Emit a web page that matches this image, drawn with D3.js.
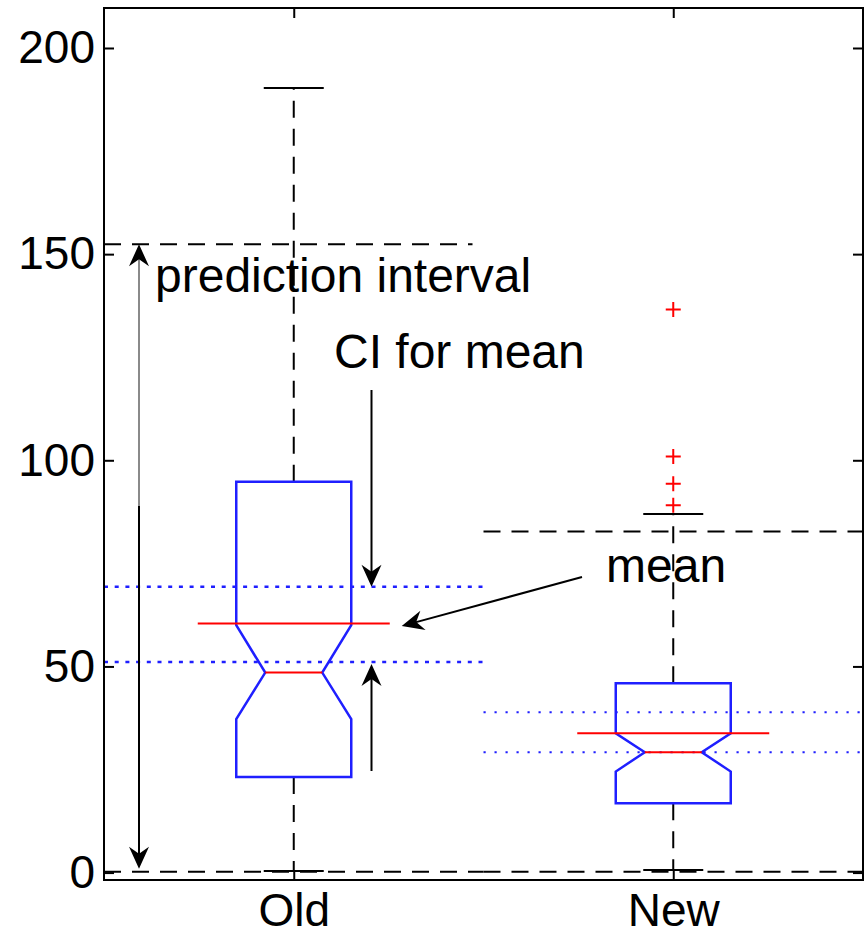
<!DOCTYPE html>
<html>
<head>
<meta charset="utf-8">
<script src="https://cdn.jsdelivr.net/npm/d3@7.9.0/dist/d3.min.js"></script>
<style>
  body { margin: 0; background: #fff; }
  svg text { font-family: "Liberation Sans", Arial, sans-serif; fill: #000; }
</style>
</head>
<body>
<svg width="865" height="941"></svg>
<script>
// data
const categories = ['Old', 'New'];
const yTicks = [0, 50, 100, 150, 200];
const q1 = [23.2, 16.8];
const q3 = [94.8, 45.9];
const medians = [48.5, 29.2];
const notchLo = [37.2, 24.5];
const notchHi = [60.0, 33.8];
const whiskerLo = [0.4, 0.6];
const whiskerHi = [190.3, 87.0];
const means = [60.4, 33.8];
const ciLo = [51.1, 29.2];
const ciHi = [69.3, 38.9];
const piLo = [0.2, 0.2];
const piHi = [152.4, 82.7];
const outliersNew = [136.6, 100.9, 94.3, 89.1];

const svg = d3.select('svg');
const plotLeft = 104, plotRight = 863, plotTop = 8, plotBottom = 880;

let x = d3.scaleBand().domain(categories).range([plotLeft, plotRight]);
let y = d3.scaleLinear().domain([-1.8, 209.7]).range([plotBottom, plotTop]);
const cx = (c) => x(c) + x.bandwidth() / 2;

const boxHalf = 57.5, notchHalf = 28.5, capHalf = 30, meanHalf = 96;
const dash = '17,11';

// prediction interval dashed lines
categories.forEach((c, i) => {
    const x0 = x(c), x1 = i === 0 ? x(c) + x.bandwidth() - 11 : x(c) + x.bandwidth();
    svg.append('line')
        .attr('x1', x0).attr('x2', x1)
        .attr('y1', y(piHi[i])).attr('y2', y(piHi[i]))
        .attr('stroke', '#000').attr('stroke-width', 2).attr('stroke-dasharray', dash);
    svg.append('line')
        .attr('x1', x(c)).attr('x2', x(c) + x.bandwidth())
        .attr('y1', y(piLo[i])).attr('y2', y(piLo[i]))
        .attr('stroke', '#000').attr('stroke-width', 2).attr('stroke-dasharray', dash);
});

// whiskers and caps
categories.forEach((c, i) => {
    const xc = cx(c);
    [[q3[i], whiskerHi[i]], [q1[i], whiskerLo[i]]].forEach(([a, b]) => {
        svg.append('line')
            .attr('x1', xc).attr('x2', xc)
            .attr('y1', y(a)).attr('y2', y(b))
            .attr('stroke', '#000').attr('stroke-width', 2).attr('stroke-dasharray', dash);
        svg.append('line')
            .attr('x1', xc - capHalf).attr('x2', xc + capHalf)
            .attr('y1', y(b)).attr('y2', y(b))
            .attr('stroke', '#000').attr('stroke-width', 2);
    });
});

// notched boxes
categories.forEach((c, i) => {
    const xc = cx(c);
    const pts = [
        [xc - boxHalf, y(q3[i])], [xc + boxHalf, y(q3[i])],
        [xc + boxHalf, y(notchHi[i])], [xc + notchHalf, y(medians[i])],
        [xc + boxHalf, y(notchLo[i])], [xc + boxHalf, y(q1[i])],
        [xc - boxHalf, y(q1[i])], [xc - boxHalf, y(notchLo[i])],
        [xc - notchHalf, y(medians[i])], [xc - boxHalf, y(notchHi[i])]
    ];
    svg.append('path')
        .attr('d', d3.line()(pts) + 'Z')
        .attr('fill', 'none').attr('stroke', '#1f1fff').attr('stroke-width', 2.5);
});

// CI for mean dotted lines
categories.forEach((c, i) => {
    [ciLo[i], ciHi[i]].forEach(v => {
        svg.append('line')
            .attr('x1', x(c)).attr('x2', x(c) + x.bandwidth())
            .attr('y1', y(v)).attr('y2', y(v))
            .attr('stroke', '#1f1fff')
            .attr('stroke-width', i === 0 ? 2.5 : 2)
            .attr('stroke-dasharray', i === 0 ? '4,6.7' : '2.2,8.8');
    });
});

// means and medians
categories.forEach((c, i) => {
    const xc = cx(c);
    svg.append('line')
        .attr('x1', xc - meanHalf).attr('x2', xc + meanHalf)
        .attr('y1', y(means[i])).attr('y2', y(means[i]))
        .attr('stroke', '#ff0000').attr('stroke-width', 2);
    svg.append('line')
        .attr('x1', xc - notchHalf).attr('x2', xc + notchHalf)
        .attr('y1', y(medians[i])).attr('y2', y(medians[i]))
        .attr('stroke', '#ff0000').attr('stroke-width', 2);
});

// outliers
outliersNew.forEach(v => {
    const xc = cx('New'), s = 7.5;
    svg.append('path')
        .attr('d', `M${xc - s},${y(v)}H${xc + s}M${xc},${y(v) - s}V${y(v) + s}`)
        .attr('stroke', '#ff0000').attr('stroke-width', 2);
});

// arrows
function arrowHead(x1, y1, x2, y2) {
    const a = Math.atan2(y2 - y1, x2 - x1);
    const L = 22, W = 10, N = 15;
    const p = (d, w) => [x2 - d * Math.cos(a) - w * Math.sin(a), y2 - d * Math.sin(a) + w * Math.cos(a)];
    svg.append('path')
        .attr('d', d3.line()([[x2, y2], p(L, W), p(N, 0), p(L, -W)]) + 'Z')
        .attr('fill', '#000');
}
function arrow(x1, y1, x2, y2, color) {
    const a = Math.atan2(y2 - y1, x2 - x1);
    svg.append('line')
        .attr('x1', x1).attr('y1', y1)
        .attr('x2', x2 - 14 * Math.cos(a)).attr('y2', y2 - 14 * Math.sin(a))
        .attr('stroke', color || '#000').attr('stroke-width', 2);
    arrowHead(x1, y1, x2, y2);
}

const piX = 139, piMid = 506;
arrow(piX, piMid, piX, y(piHi[0]), '#8a8a8a');
arrow(piX, piMid, piX, y(piLo[0]) - 3, '#000');

const ciX = 371.5;
arrow(ciX, 390, ciX, y(ciHi[0]));
arrow(ciX, 771, ciX, y(ciLo[0]) + 2);

arrow(582, 577, cx('Old') + 108, y(means[0]) + 2.5);

// annotation text
svg.append('text').attr('x', 155).attr('y', 292).attr('font-size', 48).text('prediction interval');
svg.append('text').attr('x', 334).attr('y', 368).attr('font-size', 48).text('CI for mean');
svg.append('text').attr('x', 606).attr('y', 582).attr('font-size', 48).text('mean');

// axes
svg.append('g')
    .attr('transform', `translate(${plotLeft},0)`)
    .call(d3.axisLeft(y).tickValues(yTicks).tickSizeInner(-10).tickSizeOuter(0).tickPadding(9))
    .call(g => g.select('.domain').remove())
    .call(g => g.selectAll('line').attr('stroke-width', 2))
    .call(g => g.selectAll('text').attr('font-size', 46).attr('font-family', '"Liberation Sans", Arial, sans-serif'));
svg.append('g')
    .attr('transform', `translate(${plotRight},0)`)
    .call(d3.axisRight(y).tickValues(yTicks).tickSizeInner(-10).tickSizeOuter(0).tickFormat(''))
    .call(g => g.select('.domain').remove())
    .call(g => g.selectAll('line').attr('stroke-width', 2));

let xPoint = d3.scalePoint().domain(categories).range([plotLeft, plotRight]).padding(0.5);
svg.append('g')
    .attr('transform', `translate(0,${plotBottom})`)
    .call(d3.axisBottom(xPoint).tickSizeInner(-10).tickSizeOuter(0).tickPadding(13))
    .call(g => g.select('.domain').remove())
    .call(g => g.selectAll('line').attr('stroke-width', 2))
    .call(g => g.selectAll('text').attr('font-size', 46).attr('font-family', '"Liberation Sans", Arial, sans-serif'));
svg.append('g')
    .attr('transform', `translate(0,${plotTop})`)
    .call(d3.axisTop(xPoint).tickSizeInner(-10).tickSizeOuter(0).tickFormat(''))
    .call(g => g.select('.domain').remove())
    .call(g => g.selectAll('line').attr('stroke-width', 2));

// frame
svg.append('rect')
    .attr('x', plotLeft).attr('y', plotTop)
    .attr('width', plotRight - plotLeft).attr('height', plotBottom - plotTop)
    .attr('fill', 'none').attr('stroke', '#000').attr('stroke-width', 2);
</script>
</body>
</html>
